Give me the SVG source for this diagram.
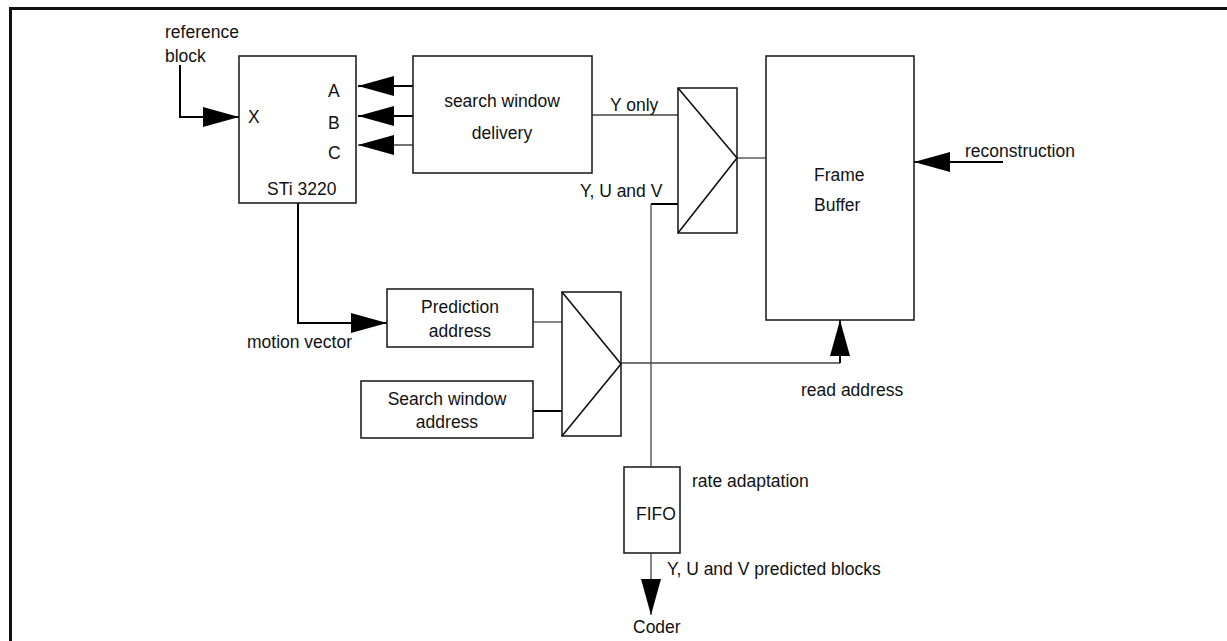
<svg xmlns="http://www.w3.org/2000/svg" width="1227" height="641" viewBox="0 0 1227 641">
<style>
text{font-family:"Liberation Sans",Arial,sans-serif;font-size:17.5px;fill:#111}
.box{fill:#fff;stroke:#222;stroke-width:1.6}
.mux{fill:none;stroke:#111;stroke-width:1.6}
.w{fill:none;stroke:#000;stroke-width:2}
.t{fill:none;stroke:#444;stroke-width:1.3}
</style>
<defs>
<marker id="ah" viewBox="0 0 36 20" refX="36" refY="10" markerWidth="36" markerHeight="20" markerUnits="userSpaceOnUse" orient="auto">
<path d="M0,0 L36,10 L0,20 Z" fill="#000"/>
</marker>
</defs>
<path d="M10.5,641 V8.5 H1227" fill="none" stroke="#111" stroke-width="3"/>
<g id="connectors">
<path class="w" d="M180,65 V117 H239" marker-end="url(#ah)"/>
<path class="w" d="M413,86 H358" marker-end="url(#ah)"/>
<path class="w" d="M413,116 H358" marker-end="url(#ah)"/>
<path class="t" d="M413,145 H358" marker-end="url(#ah)"/>
<path class="w" d="M1003,162 H914" marker-end="url(#ah)"/>
<path class="t" d="M621,363 H840"/>
<path class="w" d="M840,363 V320" marker-end="url(#ah)"/>
<path class="w" d="M298,203 V323 H387" marker-end="url(#ah)"/>
<path class="t" d="M651,553 V615" marker-end="url(#ah)"/>
<path class="t" d="M592,115 H678"/>
<path class="t" d="M737,158 H766"/>
<path class="w" d="M678,204 H651"/>
<path class="t" d="M651,204 V467"/>
<path class="t" d="M533,322 H562"/>
<path class="w" d="M533,411 H562"/>
</g>
<g id="sti3220">
<rect class="box" x="239" y="56" width="117" height="147"/>
<text x="248" y="123">X</text>
<text x="328" y="97">A</text>
<text x="328" y="129">B</text>
<text x="328" y="159">C</text>
<text x="267" y="195">STi 3220</text>
</g>
<g id="search-window-delivery">
<rect class="box" x="413" y="56" width="179" height="117"/>
<text x="502" y="107" text-anchor="middle">search window</text>
<text x="502" y="139" text-anchor="middle">delivery</text>
</g>
<g id="mux1">
<rect class="box" x="678" y="88" width="59" height="145"/>
<path class="mux" d="M678,88 L737,158 L678,233"/>
</g>
<g id="frame-buffer">
<rect class="box" x="766" y="56" width="148" height="264"/>
<text x="814" y="181">Frame</text>
<text x="814" y="211">Buffer</text>
</g>
<g id="prediction-address">
<rect class="box" x="387" y="289" width="146" height="58"/>
<text x="460" y="313" text-anchor="middle">Prediction</text>
<text x="460" y="337" text-anchor="middle">address</text>
</g>
<g id="search-window-address">
<rect class="box" x="361" y="381" width="172" height="57"/>
<text x="447" y="405" text-anchor="middle">Search window</text>
<text x="447" y="428" text-anchor="middle">address</text>
</g>
<g id="mux2">
<rect class="box" x="562" y="292" width="59" height="144"/>
<path class="mux" d="M562,292 L621,364 L562,436"/>
</g>
<g id="fifo">
<rect class="box" x="624" y="467" width="56" height="86"/>
<text x="636" y="520">FIFO</text>
</g>
<g id="labels">
<text x="165" y="38">reference</text>
<text x="165" y="62">block</text>
<text x="610" y="111">Y only</text>
<text x="580" y="197">Y, U and V</text>
<text x="965" y="157">reconstruction</text>
<text x="801" y="396">read address</text>
<text x="352" y="348" text-anchor="end">motion vector</text>
<text x="692" y="487">rate adaptation</text>
<text x="667" y="575">Y, U and V predicted blocks</text>
<text x="633" y="633">Coder</text>
</g>
</svg>
